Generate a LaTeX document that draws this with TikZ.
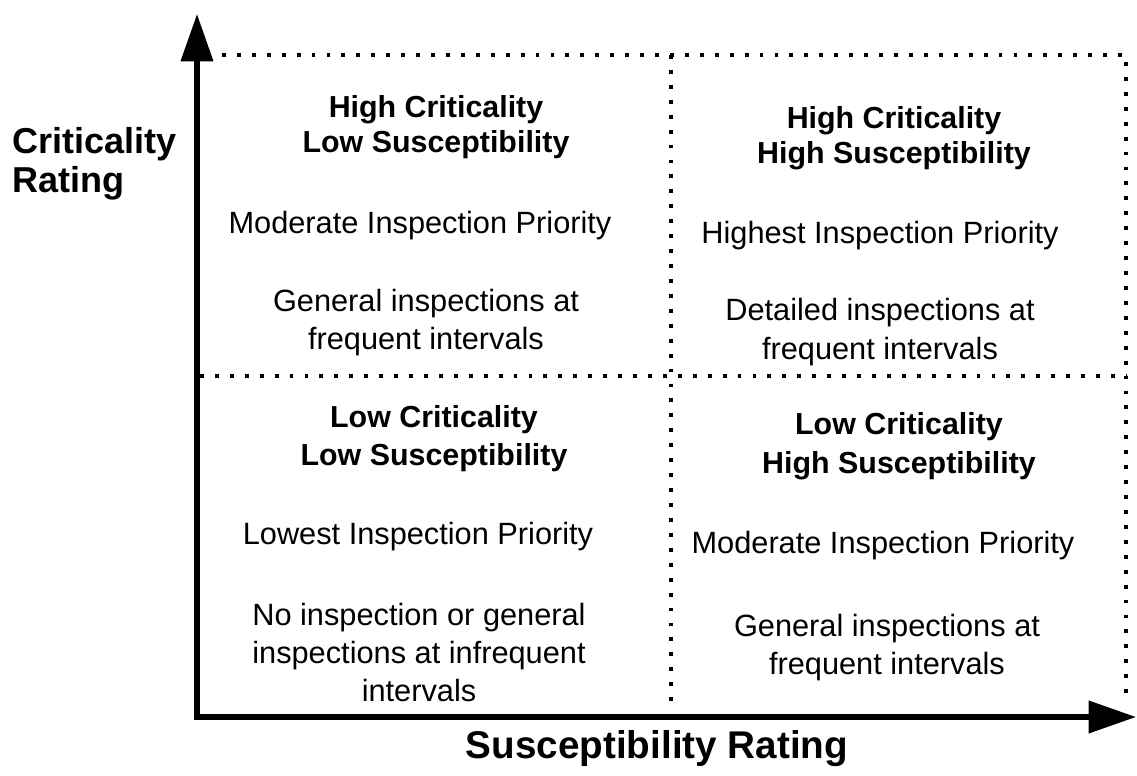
\documentclass[tikz,border=0pt]{standalone}
\usepackage{fontspec}
\setmainfont{Liberation Sans}
\usetikzlibrary{arrows.meta}
\begin{document}
\begin{tikzpicture}[x=0.02cm,y=-0.02cm,
  reg/.style={font=\fontsize{17.5}{21}\selectfont, anchor=base, inner sep=0pt},
  hdr/.style={font=\bfseries\fontsize{17.3}{21}\selectfont, anchor=base, inner sep=0pt},
  axlabel/.style={font=\bfseries\fontsize{20.5}{24}\selectfont, inner sep=0pt},
  axisline/.style={line width=3pt, -{Triangle[length=27pt,width=18pt]}},
  dotline/.style={line width=2.2pt, dash pattern=on 2.2pt off 6.3pt}]
\useasboundingbox (0,0) rectangle (1137,775);

% axes
\coordinate (O) at (197,717);
\coordinate (ytip) at (197,14);
\coordinate (xtip) at (1136,717);
\draw[axisline] ([yshift=-1.5pt]O) -- (ytip);
\draw[axisline] ([xshift=-1.5pt]O) -- (xtip);

% dotted grid
\coordinate (topL) at (222,55);
\coordinate (topM) at (671,55);
\coordinate (topR) at (1126,55);
\coordinate (midL) at (200,376);
\coordinate (midR) at (1126,376);
\coordinate (botM) at (671,705);
\coordinate (botR) at (1126,700);
\draw[dotline] (topL) -- (topR) -- (botR);
\draw[dotline] (midL) -- (midR);
\draw[dotline] (topM) -- (botM);

% axis labels
\node[axlabel, anchor=base west] (cr1) at (12,153) {Criticality};
\node[axlabel, anchor=base west] (cr2) at (12,192) {Rating};
\node[axlabel, anchor=base, font=\bfseries\fontsize{22}{26}\selectfont] (sr) at (657,758) {Susceptibility Rating};

% top-left quadrant
\node[hdr] (tlh1) at (436,117) {High Criticality};
\node[hdr] (tlh2) at (436,152) {Low Susceptibility};
\node[reg] (tlp) at (420,233) {Moderate Inspection Priority};
\node[reg] (tld1) at (426,311) {General inspections at};
\node[reg] (tld2) at (426,349) {frequent intervals};

% top-right quadrant
\node[hdr] (trh1) at (894,128) {High Criticality};
\node[hdr] (trh2) at (894,163) {High Susceptibility};
\node[reg] (trp) at (880,243) {Highest Inspection Priority};
\node[reg] (trd1) at (880,320) {Detailed inspections at};
\node[reg] (trd2) at (880,359) {frequent intervals};

% bottom-left quadrant
\node[hdr] (blh1) at (434,427) {Low Criticality};
\node[hdr] (blh2) at (434,465) {Low Susceptibility};
\node[reg] (blp) at (418,544) {Lowest Inspection Priority};
\node[reg] (bld1) at (419,625) {No inspection or general};
\node[reg] (bld2) at (419,663) {inspections at infrequent};
\node[reg] (bld3) at (419,701) {intervals};

% bottom-right quadrant
\node[hdr] (brh1) at (899,434) {Low Criticality};
\node[hdr] (brh2) at (899,473) {High Susceptibility};
\node[reg] (brp) at (883,553) {Moderate Inspection Priority};
\node[reg] (brd1) at (887,636) {General inspections at};
\node[reg] (brd2) at (887,674) {frequent intervals};
\end{tikzpicture}
\end{document}
